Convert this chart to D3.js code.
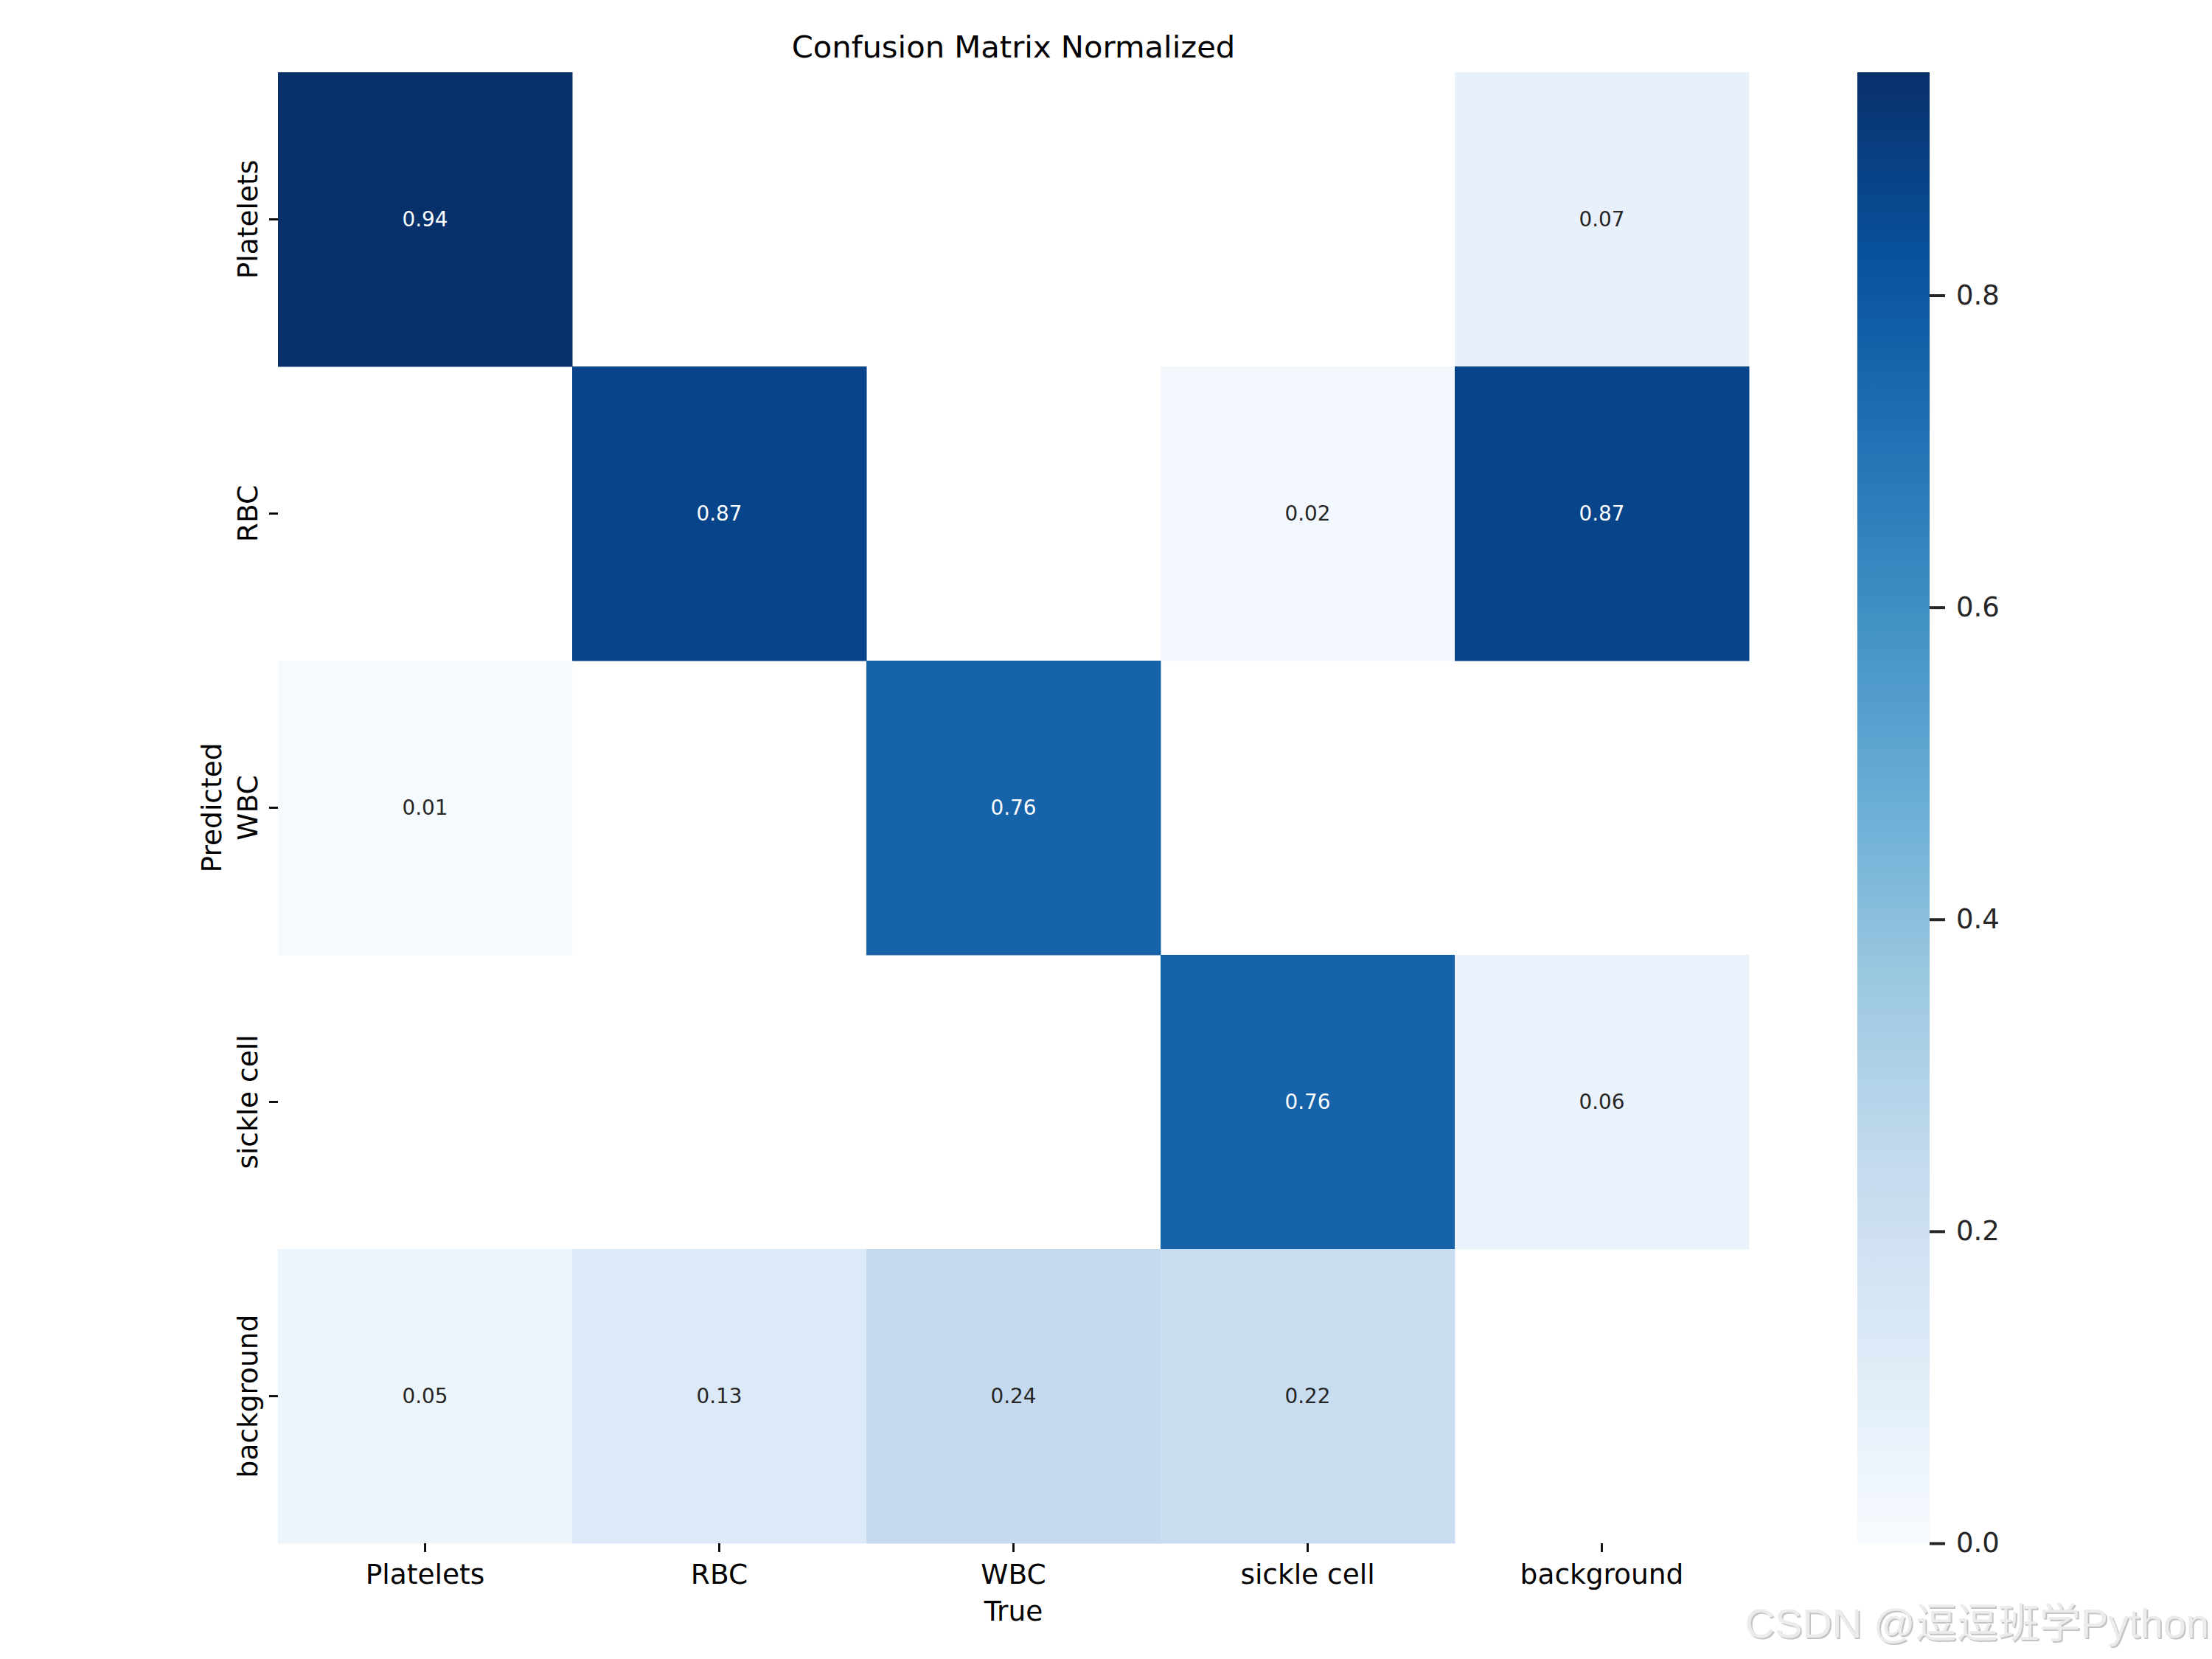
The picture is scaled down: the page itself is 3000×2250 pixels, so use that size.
<!DOCTYPE html>
<html>
<head>
<meta charset="utf-8">
<script src="https://cdn.jsdelivr.net/npm/d3@7"></script>
<style>
  html, body { margin: 0; padding: 0; background: #ffffff; }
  svg { display: block; }
</style>
</head>
<body>
<svg id="chart" width="3000" height="2250"></svg>
<script>
// ---- data ----
const categories = ["Platelets", "RBC", "WBC", "sickle cell", "background"];
// rows = Predicted, columns = True; null = 0 (masked, drawn white)
const predPlatelets  = [0.943, null, null, null, 0.07];
const predRBC        = [null, 0.87, null, 0.02, 0.87];
const predWBC        = [0.01, null, 0.76, null, null];
const predSickleCell = [null, null, null, 0.76, 0.06];
const predBackground = [0.05, 0.13, 0.24, 0.22, null];
const matrixRows = [predPlatelets, predRBC, predWBC, predSickleCell, predBackground];
const colorbarTicks = [0.0, 0.2, 0.4, 0.6, 0.8];
const titleText = "Confusion Matrix Normalized";
const xLabelText = "True";
const yLabelText = "Predicted";
const watermarkText = "CSDN @逗逗班学Python";

// ---- colormap (matplotlib Blues) ----
const bluesStops = ["#f7fbff", "#deebf7", "#c6dbef", "#9ecae1", "#6baed6",
                    "#4292c6", "#2171b5", "#08519c", "#08306b"];
const cells = [];
matrixRows.forEach((row, i) => row.forEach((v, j) => {
  if (v !== null) cells.push({ pred: categories[i], truth: categories[j], v });
}));
const vmin = 0;
const vmax = d3.max(cells, d => d.v);
const color = d3.scaleLinear()
  .domain(bluesStops.map((_, k) => vmin + (vmax - vmin) * k / (bluesStops.length - 1)))
  .range(bluesStops)
  .interpolate(d3.interpolateRgb)
  .clamp(true);

function luminance(c) {
  const rgb = d3.rgb(c);
  const f = u => { u /= 255; return u <= 0.03928 ? u / 12.92 : Math.pow((u + 0.055) / 1.055, 2.4); };
  return 0.2126 * f(rgb.r) + 0.7152 * f(rgb.g) + 0.0722 * f(rgb.b);
}

// ---- layout ----
const FONT = "'DejaVu Sans', sans-serif";
const LABEL_SIZE = 37.5;
const svg = d3.select("#chart");
const pL = 377, pR = 2372, pT = 98, pB = 2093;

const x = d3.scaleBand().domain(categories).range([pL, pR]);
const y = d3.scaleBand().domain(categories).range([pT, pB]);

// cells
svg.append("g").selectAll("rect").data(cells).join("rect")
  .attr("x", d => x(d.truth))
  .attr("y", d => y(d.pred))
  .attr("width", x.bandwidth() + 0.5)
  .attr("height", y.bandwidth() + 0.5)
  .attr("fill", d => color(d.v));

// annotations
svg.append("g").selectAll("text").data(cells).join("text")
  .attr("x", d => x(d.truth) + x.bandwidth() / 2)
  .attr("y", d => y(d.pred) + y.bandwidth() / 2)
  .attr("text-anchor", "middle")
  .attr("dominant-baseline", "central")
  .attr("font-family", FONT)
  .attr("font-size", 27.8)
  .attr("fill", d => luminance(color(d.v)) > 0.408 ? "#262626" : "#ffffff")
  .text(d => d.v.toFixed(2));

// x axis
const gx = svg.append("g")
  .attr("transform", `translate(0,${pB})`)
  .call(d3.axisBottom(x).tickSize(12).tickPadding(12));
gx.select(".domain").remove();
gx.selectAll(".tick line").attr("stroke", "#000").attr("stroke-width", 2.8);
gx.selectAll(".tick text").attr("font-family", FONT).attr("font-size", LABEL_SIZE).attr("fill", "#000")
  .attr("dy", null).attr("y", 55);

// y axis
const gy = svg.append("g")
  .attr("transform", `translate(${pL},0)`)
  .call(d3.axisLeft(y).tickSize(12).tickPadding(12));
gy.select(".domain").remove();
gy.selectAll(".tick line").attr("stroke", "#000").attr("stroke-width", 2.8);
gy.selectAll(".tick text")
  .attr("font-family", FONT).attr("font-size", LABEL_SIZE).attr("fill", "#000")
  .attr("x", null).attr("dy", null)
  .attr("text-anchor", "middle")
  .attr("transform", "translate(-28,0) rotate(-90)");

// axis labels
svg.append("text")
  .attr("x", (pL + pR) / 2).attr("y", 2198)
  .attr("text-anchor", "middle")
  .attr("font-family", FONT).attr("font-size", LABEL_SIZE).attr("fill", "#000")
  .text(xLabelText);
svg.append("text")
  .attr("transform", `translate(300,${(pT + pB) / 2}) rotate(-90)`)
  .attr("text-anchor", "middle")
  .attr("font-family", FONT).attr("font-size", LABEL_SIZE).attr("fill", "#000")
  .text(yLabelText);

// title
svg.append("text")
  .attr("x", (pL + pR) / 2).attr("y", 78)
  .attr("text-anchor", "middle")
  .attr("font-family", FONT).attr("font-size", 41.7).attr("fill", "#000")
  .text(titleText);

// ---- colorbar ----
const cbX = 2519, cbW = 98;
const cbScale = d3.scaleLinear().domain([vmin, vmax]).range([pB, pT]);
const defs = svg.append("defs");
const grad = defs.append("linearGradient").attr("id", "cbgrad")
  .attr("x1", "0").attr("y1", "1").attr("x2", "0").attr("y2", "0");
d3.range(0, 1.0001, 0.01).forEach(t => {
  grad.append("stop").attr("offset", t).attr("stop-color", color(vmin + t * (vmax - vmin)));
});
svg.append("rect")
  .attr("x", cbX).attr("y", pT)
  .attr("width", cbW).attr("height", pB - pT)
  .attr("fill", "url(#cbgrad)");
const gc = svg.append("g")
  .attr("transform", `translate(${cbX + cbW},0)`)
  .call(d3.axisRight(cbScale).tickValues(colorbarTicks).tickFormat(d3.format(".1f")).tickSize(21).tickPadding(15));
gc.select(".domain").remove();
gc.selectAll(".tick line").attr("stroke", "#262626").attr("stroke-width", 4);
gc.selectAll(".tick text").attr("font-family", FONT).attr("font-size", 37).attr("fill", "#262626");

// ---- watermark ----
const wm = svg.append("g").attr("font-family", "'Liberation Sans', 'Noto Sans CJK SC', sans-serif")
  .attr("font-size", 56).attr("text-anchor", "end");
wm.append("text").attr("x", 2998).attr("y", 2223).attr("fill", "#c4c4c4").text(watermarkText);
wm.append("text").attr("x", 2996).attr("y", 2221).attr("fill", "#ececec").text(watermarkText);
</script>
</body>
</html>
